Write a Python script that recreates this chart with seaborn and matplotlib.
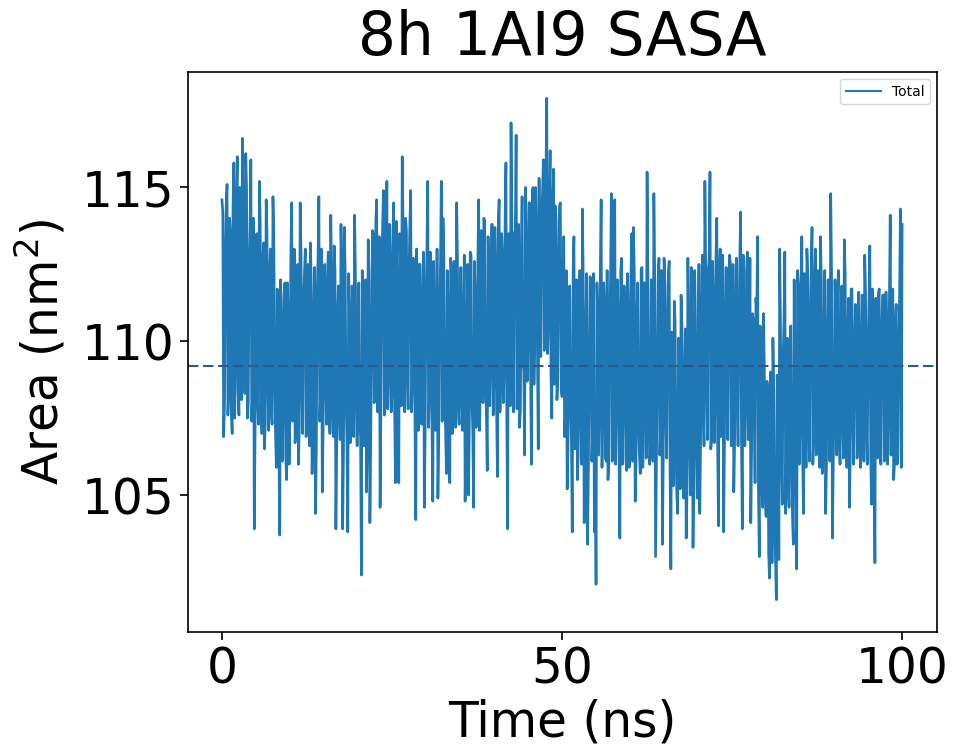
import numpy as np
import pandas as pd
import matplotlib
matplotlib.use("Agg")
import matplotlib.pyplot as plt
import seaborn as sns

# Total SASA (nm^2), frames every 0.25 ns starting at 0 ns
area_frames_a = [
    114.6, 106.9, 112.8, 115.1, 108.4, 113.5, 107.0, 115.8,
    109.2, 116.0, 107.6, 113.9, 116.6, 109.0, 116.1, 107.5,
    112.5, 115.9, 108.3, 103.9, 112.9, 108.0, 115.2, 109.1,
    112.6, 106.5, 114.6, 108.6, 112.2, 107.8, 114.7, 108.9,
    105.9, 111.2, 103.7, 110.5, 108.0, 111.9, 105.5, 110.8,
    108.2, 114.5, 109.0, 106.7, 112.0, 106.0, 114.5, 108.4,
    111.4, 113.0, 107.8, 110.9, 113.2, 105.7, 111.0, 104.4,
    111.6, 114.7, 108.3, 105.1, 112.1, 108.6, 111.8, 107.9,
    114.1, 107.6, 113.1, 103.9, 110.9, 107.8, 113.8, 103.9,
    113.7, 108.0, 103.8, 110.8, 107.6, 111.2, 114.1, 108.2,
    110.6, 107.2, 102.4, 109.9, 111.2, 105.1, 113.3, 104.1,
    110.2, 113.5, 108.4, 114.6, 109.2, 104.6, 112.3, 114.9,
    108.8, 115.2, 109.0, 112.6, 108.3, 114.5, 105.4, 111.8,
    105.4, 112.4, 116.0, 108.6, 114.0, 108.9, 112.2, 114.9,
    108.7, 111.8, 104.2, 110.9, 112.5, 107.9, 111.3, 104.6,
    111.4, 115.2, 108.2, 111.9, 104.8, 110.6, 108.0, 104.9,
    111.0, 115.2, 114.0, 108.3, 105.7, 111.1, 105.4, 112.3,
    108.1, 111.5, 114.5, 107.9, 111.2, 108.2, 110.8, 104.8,
    110.5, 105.0, 112.9, 108.1, 104.6, 111.3, 108.4, 114.6,
    109.0, 112.6, 114.0, 108.7, 105.8, 112.2, 109.2, 113.8,
    108.8, 112.4, 105.6, 114.6, 108.9, 112.7, 109.1, 115.8,
    103.9, 112.0, 117.1, 109.5, 113.5, 116.7, 110.2, 107.2,
    112.6, 109.4, 106.3, 112.9, 110.1, 114.5, 106.0, 115.0,
    110.3, 113.7, 106.5, 111.2, 114.2, 115.9, 110.4, 117.9,
    110.6, 116.2, 107.5, 115.6, 114.4, 108.1, 112.4, 114.5,
    108.2, 113.4, 107.6, 105.2, 110.9, 108.0, 103.8, 113.4,
    108.5, 105.5, 111.1, 107.8, 114.3, 104.1, 110.6, 103.4,
    109.0, 112.0, 107.1, 103.8, 102.1, 110.7, 107.5, 114.6,
    108.7, 111.1, 106.1, 105.5, 110.4, 114.8, 107.6, 114.6,
    108.0, 110.9, 103.6, 112.7, 108.3, 110.6, 105.8, 111.0,
    107.4, 113.5, 113.7, 104.8, 110.9, 107.2, 105.7, 112.4,
    107.8, 110.8, 115.5, 108.3, 106.4, 111.1, 114.8, 103.0,
    109.3, 112.7, 107.3, 103.4, 112.7, 107.6, 110.4, 112.6,
    102.6, 108.9, 111.3, 106.5, 104.4, 109.4, 111.5, 106.2,
    108.8, 103.6, 112.7, 106.8, 112.4, 103.3, 112.3, 106.7,
    109.6, 104.4, 111.0, 107.9, 115.2, 108.6, 112.3, 115.5,
    106.9, 111.4, 108.0, 114.0, 104.0, 113.0, 109.2, 103.8,
    110.8, 108.1, 111.6, 112.5, 107.7, 105.1, 110.9, 108.3,
    110.5, 114.2, 103.9, 110.7, 108.0, 112.9, 107.8, 104.1,
    110.9, 108.2, 111.4, 113.4, 103.0, 107.6, 104.6, 108.9,
    104.3, 108.5, 102.3, 106.9, 110.1, 104.0, 101.6, 107.8,
    113.0, 106.2, 109.4, 112.9, 107.0, 105.5, 109.2, 106.3,
    103.4, 109.1, 102.6, 111.8, 107.2, 113.4, 104.4, 110.5,
    113.0, 107.4, 110.8, 113.7, 107.0, 113.0, 108.2, 111.0,
    113.4, 105.7, 110.2, 104.4, 109.9, 107.3, 114.8, 103.6,
    108.0, 110.7, 111.4, 106.8, 110.3, 107.4, 113.3, 107.9,
    110.2, 104.6, 111.7, 107.5, 109.6, 110.8, 106.9, 109.9,
    107.2, 110.4, 112.8, 107.1, 109.8, 113.1, 104.7, 109.5,
    102.8, 108.9, 111.5, 106.8, 110.2, 111.5, 107.0, 110.3,
    107.6, 114.1, 108.4, 105.5, 110.6, 106.0, 109.8, 114.3,
    113.8,
]

# Frames in between (0.125 ns + k*0.25 ns): the dense core band of the trace
area_frames_b = [
    114.2, 107.9, 114.5, 107.6, 114.0, 107.8, 114.4, 107.5,
    114.7, 108.4, 115.0, 108.1, 114.5, 108.3, 114.9, 108.0,
    113.7, 107.4, 114.0, 107.1, 113.5, 107.3, 113.9, 107.0,
    113.2, 107.4, 113.5, 107.1, 113.0, 107.3, 113.4, 107.0,
    111.7, 106.4, 112.0, 106.1, 111.5, 106.3, 111.9, 106.0,
    112.7, 107.4, 113.0, 107.1, 112.5, 107.3, 112.9, 107.0,
    112.2, 106.9, 112.5, 106.6, 112.0, 106.8, 112.4, 106.5,
    112.7, 107.4, 113.0, 107.1, 112.5, 107.3, 112.9, 107.0,
    112.0, 106.9, 112.3, 106.6, 111.8, 106.8, 112.2, 106.5,
    112.1, 106.8, 112.2, 106.7, 111.8, 106.9, 112.1, 106.6,
    111.9, 106.9, 112.3, 106.6, 112.0, 106.7, 112.2, 106.8,
    113.6, 108.0, 113.9, 107.7, 113.4, 107.9, 113.8, 107.6,
    113.7, 107.8, 113.8, 107.7, 113.5, 108.0, 113.9, 107.6,
    113.5, 107.9, 113.9, 107.7, 113.6, 107.8, 113.8, 107.7,
    112.7, 107.4, 113.0, 107.1, 112.5, 107.3, 112.9, 107.0,
    112.8, 107.2, 112.9, 107.3, 112.6, 107.1, 113.0, 107.0,
    112.5, 107.4, 112.8, 107.1, 112.3, 107.3, 112.7, 107.0,
    112.6, 107.2, 112.7, 107.3, 112.4, 107.1, 112.8, 107.0,
    112.5, 107.3, 112.8, 107.1, 112.6, 107.2, 112.7, 107.1,
    113.6, 108.0, 113.9, 107.7, 113.4, 107.9, 113.8, 107.6,
    113.7, 107.8, 113.8, 107.7, 113.5, 108.0, 113.9, 107.6,
    113.5, 107.9, 113.9, 107.7, 113.6, 107.8, 113.8, 107.7,
    114.7, 109.0, 115.0, 108.7, 114.5, 108.9, 114.9, 108.6,
    115.0, 109.8, 115.3, 109.5, 114.8, 109.7, 115.2, 109.6,
    114.2, 108.9, 114.5, 108.6, 114.0, 108.8, 114.4, 108.5,
    112.0, 106.9, 112.3, 106.6, 111.8, 106.8, 112.2, 106.5,
    112.0, 106.3, 112.3, 106.0, 111.8, 106.2, 112.2, 105.9,
    112.1, 106.1, 112.2, 106.0, 111.9, 106.3, 112.3, 105.9,
    111.9, 106.2, 112.3, 106.0, 112.0, 106.1, 112.2, 106.0,
    112.0, 106.3, 112.3, 106.0, 111.8, 106.2, 112.2, 105.9,
    112.1, 106.1, 112.2, 106.0, 111.9, 106.3, 112.3, 105.9,
    111.9, 106.2, 112.3, 106.0, 112.0, 106.1, 112.2, 106.0,
    112.0, 106.3, 112.3, 106.0, 111.8, 106.2, 112.2, 105.9,
    110.3, 105.3, 110.6, 105.0, 110.1, 105.2, 110.5, 104.9,
    110.4, 105.1, 110.5, 105.0, 110.2, 105.3, 110.6, 104.9,
    112.5, 106.9, 112.8, 106.6, 112.3, 106.8, 112.7, 106.5,
    112.6, 106.7, 112.7, 106.6, 112.4, 106.9, 112.8, 106.5,
    112.4, 106.8, 112.8, 106.6, 112.5, 106.7, 112.7, 106.6,
    112.5, 106.9, 112.8, 106.6, 112.3, 106.8, 112.7, 106.5,
    110.7, 105.4, 111.0, 105.1, 110.5, 105.3, 110.9, 105.0,
    108.7, 103.1, 109.0, 102.8, 108.5, 103.0, 108.9, 102.9,
    110.3, 104.7, 110.6, 104.4, 110.1, 104.6, 110.5, 104.3,
    112.0, 106.3, 112.3, 106.0, 111.8, 106.2, 112.2, 105.9,
    112.1, 106.1, 112.2, 106.0, 111.9, 106.3, 112.3, 105.9,
    111.9, 106.2, 112.3, 106.0, 112.0, 106.1, 112.2, 106.0,
    112.0, 106.3, 112.3, 106.0, 111.8, 106.2, 112.2, 105.9,
    111.4, 106.3, 111.7, 106.0, 111.2, 106.2, 111.6, 105.9,
    111.5, 106.1, 111.6, 106.0, 111.3, 106.3, 111.7, 105.9,
    111.4, 106.2, 111.7, 106.0, 111.5, 106.1, 111.6, 106.0,
    111.4, 106.3, 111.7, 106.0, 111.2, 106.2, 111.6, 105.9,
]
frame_step_ns = 0.25
mean_area = 109.2  # dashed reference line
x_ticks = [0, 50, 100]
y_ticks = [105, 110, 115]

time_a = np.arange(len(area_frames_a)) * frame_step_ns
time_b = np.arange(len(area_frames_b)) * frame_step_ns + frame_step_ns / 2
df = pd.DataFrame({
    "Time (ns)": np.concatenate([time_a, time_b]),
    "Area": np.concatenate([area_frames_a, area_frames_b]),
}).sort_values("Time (ns)").reset_index(drop=True)

fig = plt.figure(figsize=(9.54, 7.51), dpi=100)
ax = fig.add_axes([0.197, 0.1585, 0.785, 0.7455])

sns.lineplot(data=df, x="Time (ns)", y="Area", ax=ax, color="#1f77b4",
             linewidth=1.9, label="Total", estimator=None)
ax.axhline(mean_area, color="#2a5d86", linestyle="--", linewidth=1.5,
           dashes=(5, 2.2))

ax.set_xlim(-5, 105.1)
ax.set_ylim(100.55, 118.75)
ax.set_xticks(x_ticks)
ax.set_yticks(y_ticks)
ax.tick_params(labelsize=35, length=6, width=1.2)
for s in ax.spines.values():
    s.set_linewidth(1.2)
    s.set_color("black")

ax.set_title("8h 1AI9 SASA", fontsize=43, pad=12)
ax.set_xlabel("Time (ns)", fontsize=35, labelpad=4)
ax.set_ylabel("Area (nm$^2$)", fontsize=35, labelpad=10)
leg = ax.legend(loc="upper right", fontsize=10, handlelength=2.5)
for h in leg.get_lines():
    h.set_linewidth(1.5)

fig.savefig("out.png", dpi=100)
